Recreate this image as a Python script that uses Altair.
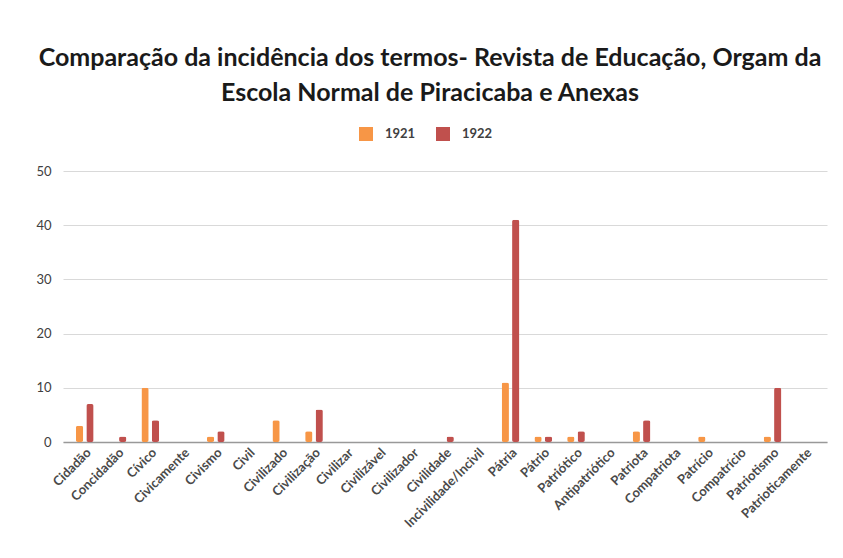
import altair as alt
import pandas as pd

termos = ["Cidadão", "Concidadão", "Cívico", "Civicamente", "Civismo", "Civil",
          "Civilizado", "Civilização", "Civilizar", "Civilizável", "Civilizador",
          "Civilidade", "Incivilidade/Incivil", "Pátria", "Pátrio", "Patriótico",
          "Antipatriótico", "Patriota", "Compatriota", "Patrício", "Compatrício",
          "Patriotismo", "Patrioticamente"]
v1921 = [3, 0, 10, 0, 1, 0, 4, 2, 0, 0, 0, 0, 0, 11, 1, 1, 0, 2, 0, 1, 0, 1, 0]
v1922 = [7, 1, 4, 0, 2, 0, 0, 6, 0, 0, 0, 1, 0, 41, 1, 2, 0, 4, 0, 0, 0, 10, 0]
anos = ["1921", "1922"]
cores = ["#F79646", "#C0504D"]
y_ticks = [0, 10, 20, 30, 40, 50]

rows = []
for t, a, b in zip(termos, v1921, v1922):
    rows.append({"termo": t, "ano": anos[0], "valor": a})
    rows.append({"termo": t, "ano": anos[1], "valor": b})
df = pd.DataFrame(rows)

chart = alt.Chart(df).mark_bar(cornerRadius=2).encode(
    x=alt.X("termo:N", sort=termos,
            scale=alt.Scale(paddingInner=0.46, paddingOuter=0.394),
            axis=alt.Axis(title=None, labelAngle=-45, labelFont="Lato", labelFontSize=13,
                          labelFontWeight="bold", labelColor="#4a4a4a", ticks=False,
                          labelPadding=4, domainColor="#999999", domainWidth=1.5,
                          grid=False)),
    xOffset=alt.XOffset("ano:N", scale=alt.Scale(paddingInner=0.3)),
    y=alt.Y("valor:Q", scale=alt.Scale(domain=[0, 50]),
            axis=alt.Axis(title=None, values=y_ticks, grid=True, gridColor="#d9d9d9",
                          domain=False, ticks=False, labelPadding=12, minExtent=55,
                          maxExtent=55, labelFont="Lato", labelFontSize=13,
                          labelColor="#404040")),
    color=alt.Color("ano:N", scale=alt.Scale(domain=anos, range=cores),
                    legend=alt.Legend(title=None, orient="none", direction="horizontal",
                                      legendX=296, legendY=-44,
                                      symbolType="square", symbolSize=196,
                                      symbolStrokeWidth=0, labelFont="Lato",
                                      labelFontSize=13, labelFontWeight="bold",
                                      labelColor="#404040", columnPadding=20,
                                      labelOffset=12)),
).properties(
    width=764, height=271,
    title=alt.TitleParams(
        text=["Comparação da incidência dos termos- Revista de Educação, Orgam da",
              "Escola Normal de Piracicaba e Anexas"],
        font="Lato", fontSize=25, fontWeight="bold", color="#1a1a1a",
        lineHeight=35, anchor="middle", frame="group", dx=-15, offset=21),
    padding={"left": 0, "top": 38, "right": 5, "bottom": 5},
).configure_view(stroke=None)

chart.save("out.html", embed_options={"renderer": "svg", "actions": False})
